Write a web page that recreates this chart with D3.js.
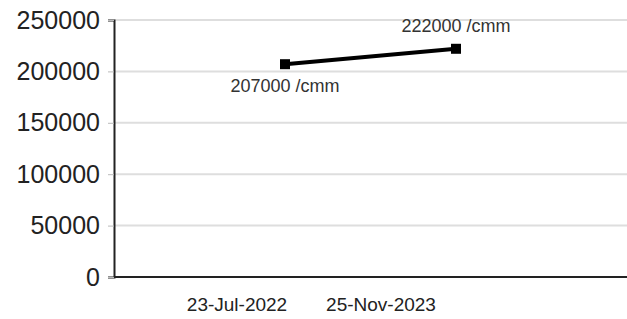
<!DOCTYPE html>
<html>
<head>
<meta charset="utf-8">
<script src="https://cdn.jsdelivr.net/npm/d3@7"></script>
<style>
  body { margin: 0; background: #fff; }
</style>
</head>
<body>
<script>
const dates = ["23-Jul-2022", "25-Nov-2023"];
const values = [207000, 222000];
const valueLabels = ["207000 /cmm", "222000 /cmm"];
const yTicks = [0, 50000, 100000, 150000, 200000, 250000];

const width = 627, height = 319;
const plotLeft = 114, plotRight = 627, plotTop = 20, plotBottom = 277;

const svg = d3.select("body").append("svg")
  .attr("width", width)
  .attr("height", height)
  .style("font-family", "'Liberation Sans', Arial, sans-serif");

const y = d3.scaleLinear().domain([0, 250000]).range([plotBottom, plotTop]);
// points sit on a point scale with outer padding, labels sit on their own tick positions
const xPoint = d3.scalePoint().domain(dates).range([plotLeft, plotRight]).padding(1);
const xTick = d3.scalePoint().domain(dates).range([237, 381]);

// gridlines
svg.append("g")
  .selectAll("line")
  .data(yTicks.filter(d => d > 0))
  .enter().append("line")
  .attr("x1", plotLeft).attr("x2", plotRight)
  .attr("y1", d => y(d)).attr("y2", d => y(d))
  .attr("stroke", "#dedede")
  .attr("stroke-width", 2);

// y axis
const yAxis = svg.append("g")
  .attr("transform", `translate(${plotLeft},0)`)
  .call(d3.axisLeft(y).tickValues(yTicks).tickFormat(d3.format("d")).tickSize(6).tickPadding(8));
yAxis.select(".domain").attr("stroke", "#222").attr("stroke-width", 2);
yAxis.selectAll(".tick line").attr("stroke", "#bbb");
yAxis.selectAll(".tick text")
  .attr("font-size", "25px")
  .attr("fill", "#222")
  .attr("font-family", "'Liberation Sans', Arial, sans-serif");

// x axis
const xAxis = svg.append("g")
  .attr("transform", `translate(0,${plotBottom})`);
xAxis.append("line")
  .attr("x1", plotLeft).attr("x2", plotRight)
  .attr("stroke", "#222").attr("stroke-width", 2);
xAxis.selectAll("text")
  .data(dates)
  .enter().append("text")
  .attr("x", d => xTick(d))
  .attr("y", 34)
  .attr("text-anchor", "middle")
  .attr("font-size", "19px")
  .attr("fill", "#222")
  .text(d => d);

// series
const pts = dates.map((d, i) => ({ date: d, value: values[i], label: valueLabels[i] }));

svg.append("path")
  .datum(pts)
  .attr("fill", "none")
  .attr("stroke", "#000")
  .attr("stroke-width", 4)
  .attr("d", d3.line().x(d => xPoint(d.date)).y(d => y(d.value)));

svg.selectAll(".marker")
  .data(pts)
  .enter().append("rect")
  .attr("class", "marker")
  .attr("x", d => xPoint(d.date) - 5)
  .attr("y", d => y(d.value) - 5)
  .attr("width", 10)
  .attr("height", 10)
  .attr("fill", "#000");

svg.selectAll(".vlabel")
  .data(pts)
  .enter().append("text")
  .attr("class", "vlabel")
  .attr("x", d => xPoint(d.date))
  .attr("y", (d, i) => i === 0 ? y(d.value) + 28 : y(d.value) - 17)
  .attr("text-anchor", "middle")
  .attr("font-size", "18px")
  .attr("fill", "#333")
  .text(d => d.label);
</script>
</body>
</html>
